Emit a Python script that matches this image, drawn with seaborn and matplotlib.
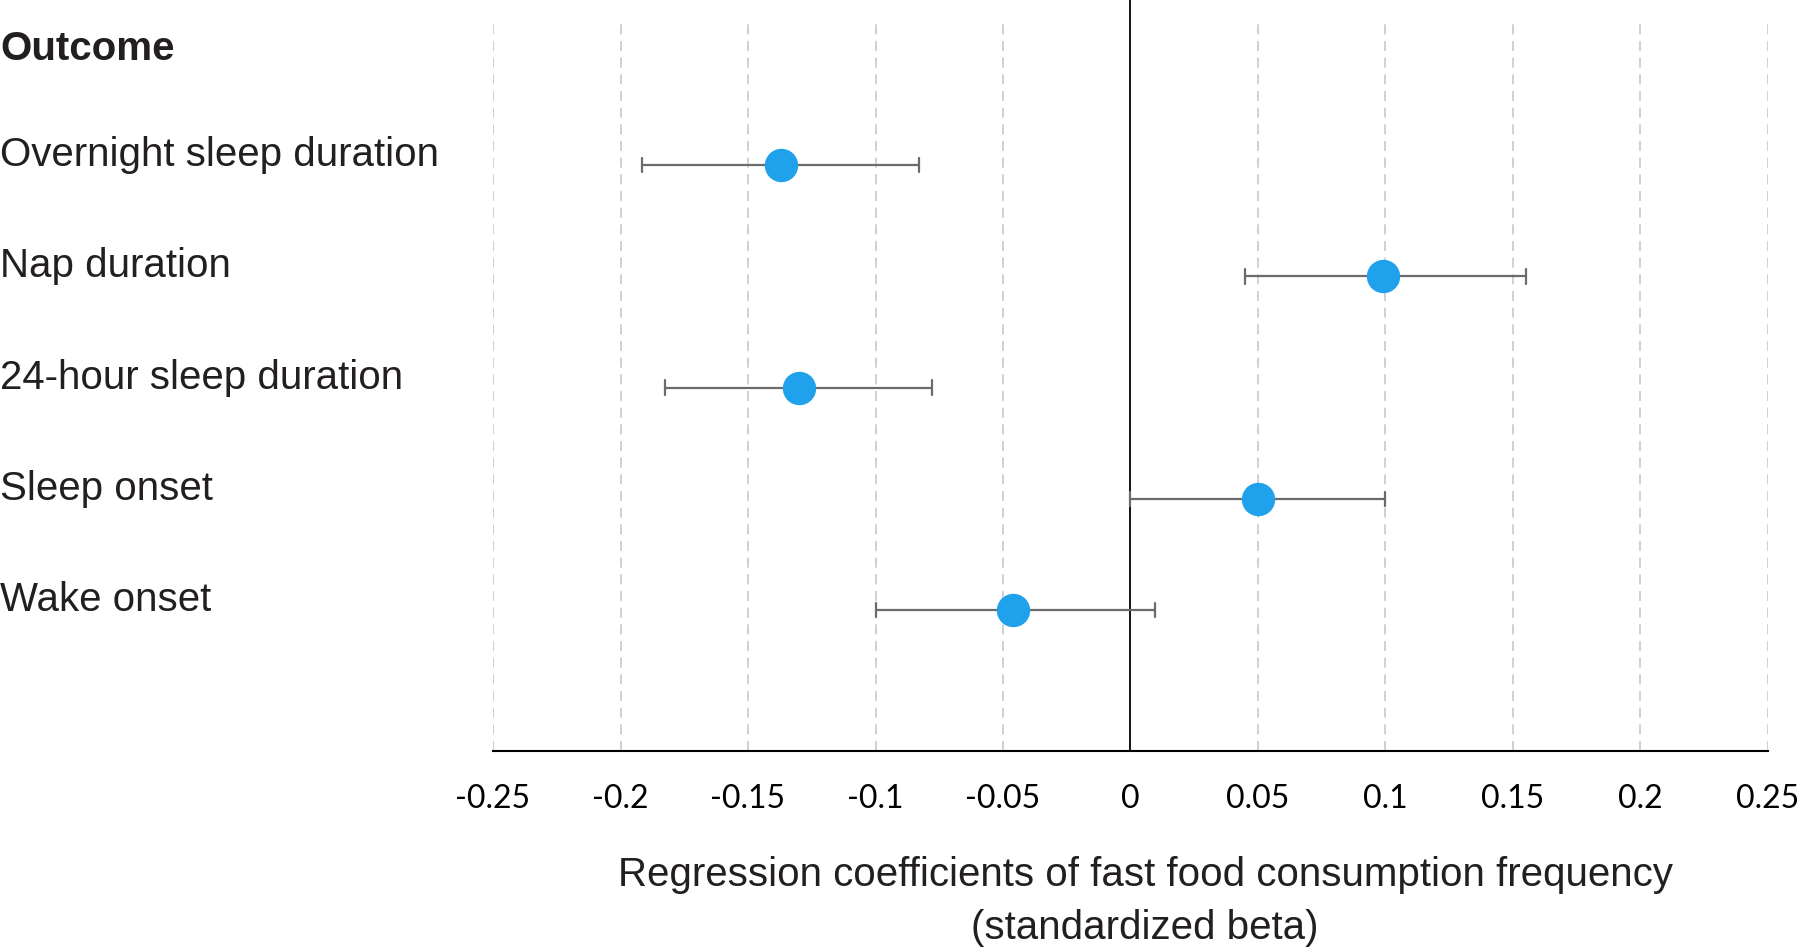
import seaborn as sns
import pandas as pd
import numpy as np
import matplotlib.pyplot as plt
import matplotlib.transforms as mtransforms

outcomes = ['Overnight sleep duration', 'Nap duration', '24-hour sleep duration',
            'Sleep onset', 'Wake onset']
beta = [-0.137, 0.099, -0.130, 0.050, -0.046]
ci_low = [-0.1915, 0.045, -0.1825, 0.000, -0.100]
ci_high = [-0.083, 0.155, -0.078, 0.100, 0.0095]
xticks = [-0.25, -0.2, -0.15, -0.1, -0.05, 0, 0.05, 0.1, 0.15, 0.2, 0.25]
xticklabels = ['-0.25', '-0.2', '-0.15', '-0.1', '-0.05', '0', '0.05', '0.1', '0.15', '0.2', '0.25']

# long table: low / estimate / high per outcome -> median = estimate, full range = CI
rows = []
for o, lo, b, hi in zip(outcomes, ci_low, beta, ci_high):
    for v in (lo, b, hi):
        rows.append({'outcome': o, 'value': v})
df = pd.DataFrame(rows)

sns.set_theme(style='white')
plt.rcParams['font.family'] = ['Liberation Sans', 'DejaVu Sans']
txt_col = '#231f20'

f = plt.figure(figsize=(18, 9.49), dpi=100)
ax = f.add_axes([0.2739, 0.2086, 0.7083, 0.7914])

sns.pointplot(data=df, x='value', y='outcome', order=outcomes,
              estimator='median', errorbar=('pi', 100),
              color='#1FA1EC', markersize=22, linestyle='none',
              capsize=0.13,
              err_kws={'color': '#6b6b6b', 'linewidth': 1.6, 'zorder': 2},
              ax=ax)
for c in ax.collections:
    c.set_zorder(3)
for l in ax.lines:
    if l.get_marker() not in (None, '', 'None'):
        l.set_zorder(4)

ax.set_xlim(-0.25, 0.25)
ax.set_ylim(5.267, -1.483)

for t in xticks:
    if t == 0:
        ax.axvline(0, color='black', lw=1.3, zorder=1)
    else:
        ax.axvline(t, ymin=0, ymax=0.97, color='#c8c8c8', lw=1.2,
                   linestyle=(0, (6, 4)), zorder=0)

ax.set_xticks(xticks)
ax.set_xticklabels(xticklabels, family=['Lato', 'DejaVu Sans'], fontsize=23, color='black')
ax.tick_params(axis='x', direction='out', length=7, width=1.5, color='black', pad=17)
ax.set_yticks([])
ax.set_xlabel('')
ax.set_ylabel('')
for s in ['top', 'right', 'left']:
    ax.spines[s].set_visible(False)
ax.spines['bottom'].set_color('black')
ax.spines['bottom'].set_linewidth(1.5)

trans = mtransforms.blended_transform_factory(f.transFigure, ax.transData)
ax.text(0.0, -1.04, 'Outcome', transform=trans, ha='left', va='center',
        fontsize=29, fontweight='bold', color=txt_col, clip_on=False)
for i, o in enumerate(outcomes):
    ax.text(0.0, i - 0.09, o, transform=trans, ha='left', va='center',
            fontsize=29, color=txt_col, clip_on=False)

f.text(1145 / 1800, 1 - 875 / 949, 'Regression coefficients of fast food consumption frequency',
       ha='center', va='center', fontsize=29, color=txt_col)
f.text(1145 / 1800, 1 - 928 / 949, '(standardized beta)',
       ha='center', va='center', fontsize=29, color=txt_col)

f.savefig('out.png', dpi=100)
